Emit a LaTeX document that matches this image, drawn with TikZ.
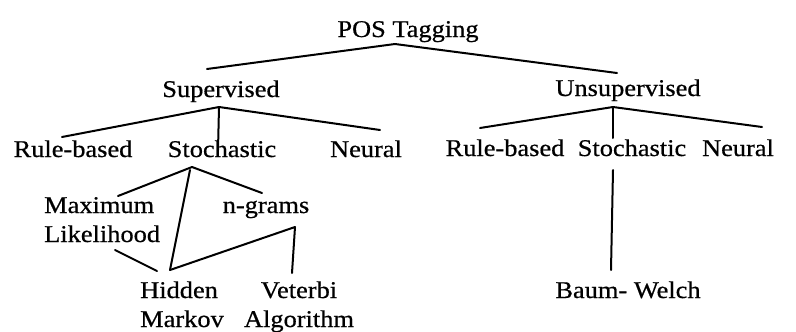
\documentclass[tikz,border=0pt]{standalone}
\usepackage{fontspec}
\setmainfont{Liberation Serif}[FakeStretch=1.1,FakeBold=0.6]
\begin{document}
\begin{tikzpicture}[x=1bp,y=-1bp,
  lbl/.style={inner sep=0pt, font=\fontsize{24bp}{29bp}\selectfont},
  edge/.style={line width=2bp, line cap=round, line join=round}]
\useasboundingbox (0,0) rectangle (796,331);

% labels
\node[lbl,anchor=base] (pos) at (408,37) {POS Tagging};
\node[lbl,anchor=base] (sup) at (221,97) {Supervised};
\node[lbl,anchor=base] (uns) at (628,96) {Unsupervised};
\node[lbl,anchor=base] (rb1) at (73,157) {Rule-based};
\node[lbl,anchor=base] (st1) at (222,157) {Stochastic};
\node[lbl,anchor=base] (nr1) at (366,157) {Neural};
\node[lbl,anchor=base] (rb2) at (505,156) {Rule-based};
\node[lbl,anchor=base] (st2) at (632,156) {Stochastic};
\node[lbl,anchor=base] (nr2) at (738,156) {Neural};
\node[lbl,anchor=base west] (ml) at (44,213) {\begin{tabular}[t]{@{}l@{}}Maximum\\Likelihood\end{tabular}};
\node[lbl,anchor=base] (ng) at (266,213) {n-grams};
\node[lbl,anchor=base west] (hm) at (140,298) {\begin{tabular}[t]{@{}l@{}}Hidden\\Markov\end{tabular}};
\node[lbl,anchor=base] (va) at (299,298) {\begin{tabular}[t]{@{}c@{}}Veterbi\\Algorithm\end{tabular}};
\node[lbl,anchor=base] (bw) at (628,298) {Baum- Welch};

% branching points under the parent labels
\coordinate (posA) at ([shift={(-13,7)}]pos.base);
\coordinate (supA) at ([shift={(-2,10)}]sup.base);
\coordinate (unsA) at ([shift={(-15,11)}]uns.base);
\coordinate (st1A) at ([shift={(-30,10)}]st1.base);
\coordinate (ngA)  at ([shift={(29,14)}]ng.base);

% tree edges
\draw[edge] ([shift={(-14,-28)}]sup.base) -- (posA) -- ([shift={(-11,-23)}]uns.base);

\draw[edge] ([shift={(-11,-20)}]rb1.base) -- (supA) -- ([shift={(14,-27)}]nr1.base);
\draw[edge] (supA) -- ([shift={(-4,-7)}]st1.base);

\draw[edge] ([shift={(-25,-28)}]rb2.base) -- (unsA) -- ([shift={(24,-29)}]nr2.base);
\draw[edge] (unsA) -- ([shift={(-19,-18)}]st2.base);

\draw[edge] ([shift={(74,-17)}]ml.base west) -- (st1A) -- ([shift={(-4,-20)}]ng.base);
\draw[edge] ([shift={(-2,3)}]st1A) -- ([shift={(30,-28)}]hm.base west);
\draw[edge] ([shift={(71,37)}]ml.base west) -- ([shift={(17,-27)}]hm.base west);
\draw[edge] ([shift={(30,-28)}]hm.base west) -- (ngA) -- ([shift={(-7,-25)}]va.base);

\draw[edge] ([shift={(-19,14)}]st2.base) -- ([shift={(-17,-28)}]bw.base);
\end{tikzpicture}
\end{document}
